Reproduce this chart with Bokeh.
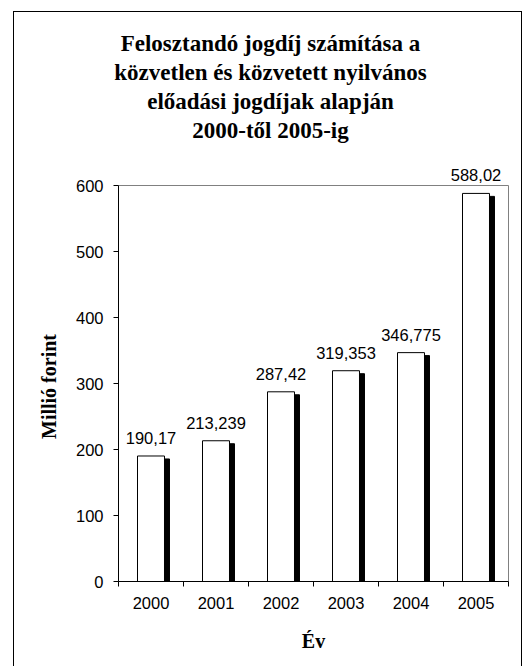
import math
from bokeh.plotting import figure
from bokeh.models import Range1d, FixedTicker, Label, LabelSet, ColumnDataSource
from bokeh.core.properties import value
from bokeh.transform import dodge
from bokeh.embed import file_html
from bokeh.resources import INLINE

# ---- data ----
years = ["2000", "2001", "2002", "2003", "2004", "2005"]
values = [190.17, 213.239, 287.42, 319.353, 346.775, 588.02]
value_labels = ["190,17", "213,239", "287,42", "319,353", "346,775", "588,02"]
y_ticks = [0, 100, 200, 300, 400, 500, 600]
title_lines = ["Felosztandó jogdíj számítása a",
               "közvetlen és közvetett nyilvános",
               "előadási jogdíjak alapján",
               "2000-től 2005-ig"]
y_title = "Millió forint"
x_title = "Év"

idx = list(range(len(years)))
src = ColumnDataSource(dict(x=idx, top=values, label=value_labels))

# ---- layout (canvas pixels) ----
W, H = 523, 666
FL, FR, FT, FB = 118, 508, 185, 581   # plot-area edges
YMAX = 600
XMIN, XMAX = -0.5, len(years) - 0.5
px_x = (FR - FL) / (XMAX - XMIN)
px_y = (FB - FT) / YMAX

def dx(px):
    return XMIN + (px - FL) / px_x

def dy(py):
    return (FB - py) / px_y

# the frame covers the whole canvas so that every text can live inside it
p = figure(width=W, height=H, output_backend="svg", toolbar_location=None,
           x_range=Range1d(dx(0), dx(W)), y_range=Range1d(dy(H), dy(0)),
           min_border=0)
p.background_fill_alpha = 0
p.border_fill_alpha = 0
p.outline_line_color = None
p.grid.visible = False

# outer chart border (left, top, right edges)
p.styles = {
    "background-color": "white",
    "background-image": "linear-gradient(#000,#000), linear-gradient(#000,#000), linear-gradient(#000,#000)",
    "background-size": "1px 100%, 1px 100%, 509px 1px",
    "background-position": "13px 11px, 521px 11px, 13px 11px",
    "background-repeat": "no-repeat",
}

serif = "Liberation Serif"
sans = "Liberation Sans"

# grey plot-area border (top and right)
p.segment(x0=[XMIN, XMAX], y0=[YMAX, 0], x1=[XMAX, XMAX], y1=[YMAX, YMAX],
          line_color="#808080", line_width=1)

# shadow bars then white bars
p.vbar(x=dodge("x", 0.077), top=dodge("top", -4.5), width=0.415, bottom=0,
       source=src, fill_color="black", line_color="black")
p.vbar(x="x", top="top", width=0.415, bottom=0, source=src,
       fill_color="white", line_color="black", line_width=1)

labels = LabelSet(x="x", y="top", text="label", source=src, y_offset=18,
                  text_align="center", text_baseline="middle",
                  text_font=value(sans), text_font_size="16.5px", text_color="black")
p.add_layout(labels)

# x axis
xa = p.xaxis[0]
xa.fixed_location = 0
xa.bounds = (XMIN, XMAX)
xa.ticker = FixedTicker(ticks=idx, minor_ticks=[i - 0.5 for i in range(len(years) + 1)])
xa.major_label_overrides = {i: y for i, y in zip(idx, years)}
xa.major_tick_out = 0
xa.major_tick_in = 0
xa.minor_tick_out = 5
xa.minor_tick_in = 0
xa.minor_tick_line_color = "black"
xa.axis_line_color = "black"
xa.major_label_standoff = 10
xa.major_label_text_font = sans
xa.major_label_text_font_size = "16.5px"
xa.major_label_text_color = "black"

# y axis
ya = p.yaxis[0]
ya.fixed_location = XMIN
ya.bounds = (0, YMAX)
ya.ticker = FixedTicker(ticks=y_ticks)
ya.major_tick_out = 5
ya.major_tick_in = 0
ya.minor_tick_out = 0
ya.minor_tick_in = 0
ya.major_tick_line_color = "black"
ya.axis_line_color = "black"
ya.major_label_standoff = 10
ya.major_label_text_font = sans
ya.major_label_text_font_size = "16.5px"
ya.major_label_text_color = "black"

# axis titles
p.add_layout(Label(x=dx(48), y=dy(386), text=y_title, angle=math.pi / 2,
                   text_align="center", text_baseline="middle",
                   text_font=serif, text_font_style="bold",
                   text_font_size="20px", text_color="black"))
p.add_layout(Label(x=dx(313), y=dy(640), text=x_title,
                   text_align="center", text_baseline="middle",
                   text_font=serif, text_font_style="bold",
                   text_font_size="20px", text_color="black"))

# chart title
title_cx = 270
title_cy = [43, 72, 101, 130]
for t, cy in zip(title_lines, title_cy):
    p.add_layout(Label(x=dx(title_cx), y=dy(cy), text=t,
                       text_align="center", text_baseline="middle",
                       text_font=serif, text_font_style="bold",
                       text_font_size="23px", text_color="black"))

open("out.html", "w").write(file_html(p, INLINE))
